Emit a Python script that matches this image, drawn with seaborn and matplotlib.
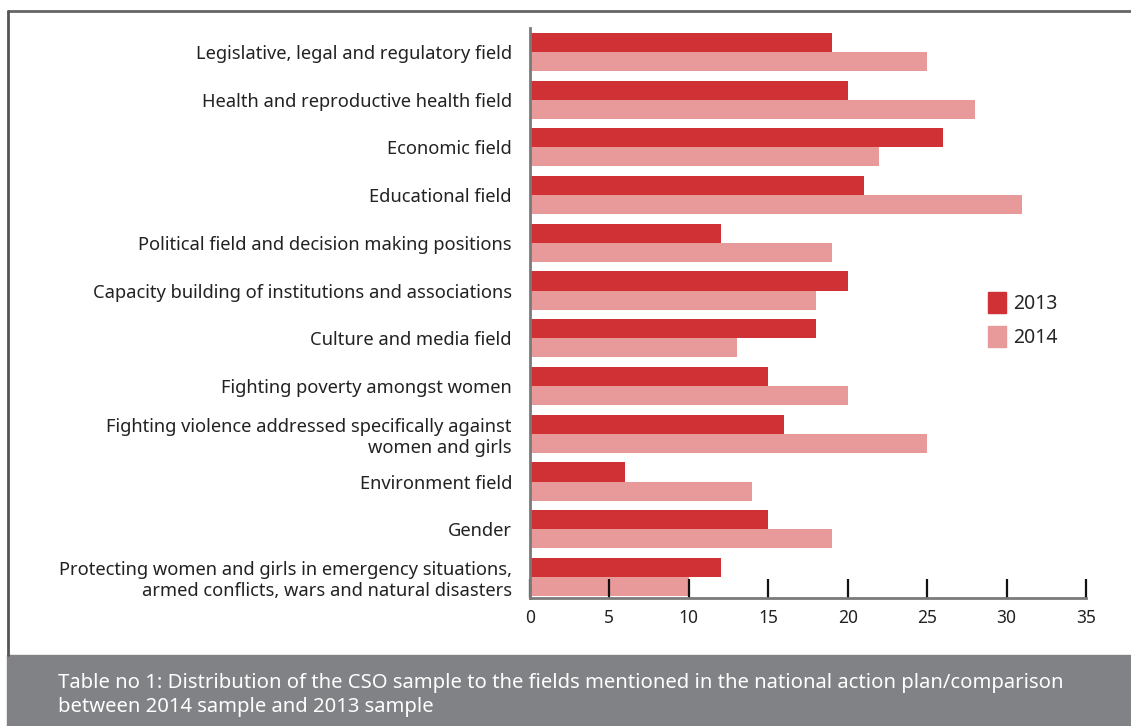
import matplotlib
matplotlib.use("Agg")
import matplotlib.pyplot as plt
import matplotlib.patches as mpatches
import seaborn as sns
import pandas as pd

categories = [
    "Legislative, legal and regulatory field",
    "Health and reproductive health field",
    "Economic field",
    "Educational field",
    "Political field and decision making positions",
    "Capacity building of institutions and associations",
    "Culture and media field",
    "Fighting poverty amongst women",
    "Fighting violence addressed specifically against\nwomen and girls",
    "Environment field",
    "Gender",
    "Protecting women and girls in emergency situations,\narmed conflicts, wars and natural disasters",
]
values_2013 = [19, 20, 26, 21, 12, 20, 18, 15, 16, 6, 15, 12]
values_2014 = [25, 28, 22, 31, 19, 18, 13, 20, 25, 14, 19, 10]
years = ["2013", "2014"]
x_ticks = [0, 5, 10, 15, 20, 25, 30, 35]
caption = ("Table no 1: Distribution of the CSO sample to the fields mentioned in the national action plan/comparison\n"
           "between 2014 sample and 2013 sample")

colors = {"2013": "#CF3134", "2014": "#E89A9A"}

df = pd.DataFrame({
    "field": categories * 2,
    "value": values_2013 + values_2014,
    "year": [years[0]] * len(categories) + [years[1]] * len(categories),
})

sns.set_style("white")
plt.rcParams["font.family"] = ["Noto Sans", "DejaVu Sans"]

W, H = 1131, 726
fig = plt.figure(figsize=(W / 100, H / 100), dpi=100)
ax = fig.add_axes([530 / W, 1 - 598 / H, (1086 - 530) / W, (598 - 28) / H])

sns.barplot(data=df, y="field", x="value", hue="year", orient="h",
            palette=colors, order=categories, hue_order=years,
            width=0.8, saturation=1, ax=ax, legend=False, linewidth=0)

ax.set_axisbelow(False)
ax.set_xlim(0, 35)
ax.set_ylim(11.44, -0.5)
ax.set_xlabel("")
ax.set_ylabel("")
ax.set_xticks(x_ticks)
ax.set_xticklabels([str(t) for t in x_ticks], fontsize=12.5, color="#222222")
ax.tick_params(axis="x", bottom=True, direction="in", length=14, width=1.6,
               color="#111111", pad=8)
ax.tick_params(axis="y", left=False, length=0, pad=13, labelsize=13.2, labelcolor="#222222")
for lbl in ax.get_yticklabels():
    lbl.set_linespacing(1.25)
for s in ["top", "right"]:
    ax.spines[s].set_visible(False)
for s in ["left", "bottom"]:
    ax.spines[s].set_color("#7a7a7a")
    ax.spines[s].set_linewidth(2)
    ax.spines[s].set_zorder(5)

handles = [mpatches.Patch(color=colors[y], label=y) for y in years]
fig.legend(handles=handles, loc="upper left", bbox_to_anchor=(988 / W, 1 - 292 / H),
           frameon=False, fontsize=14, handlelength=0.9, handleheight=1.3,
           handletextpad=0.4, labelspacing=0.6, borderpad=0, borderaxespad=0)

# frame lines
fig.add_artist(plt.Line2D([8 / W, 1], [1 - 11 / H, 1 - 11 / H], color="#666666", lw=2,
                          transform=fig.transFigure))
fig.add_artist(plt.Line2D([8 / W, 8 / W], [1 - 11 / H, 1 - 655 / H], color="#555555", lw=2,
                          transform=fig.transFigure))
# footer
fig.add_artist(mpatches.Rectangle((7 / W, 0), 1 - 7 / W, (H - 655) / H,
                                  color="#818286", transform=fig.transFigure, zorder=0))
fig.text(58 / W, 1 - 695 / H, caption, color="white", fontsize=14.6,
         va="center", ha="left", linespacing=1.3)

fig.savefig("out.png", dpi=100)
